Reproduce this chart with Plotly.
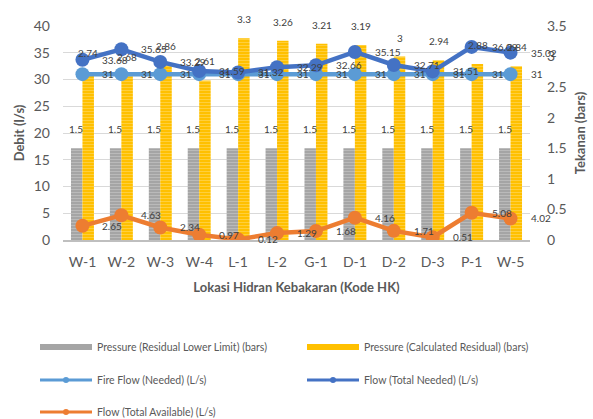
import plotly.graph_objects as go

# ---------------- data ----------------
categories = ['W-1', 'W-2', 'W-3', 'W-4', 'L-1', 'L-2', 'G-1', 'D-1', 'D-2', 'D-3', 'P-1', 'W-5']
pressure_lower_limit = [1.5, 1.5, 1.5, 1.5, 1.5, 1.5, 1.5, 1.5, 1.5, 1.5, 1.5, 1.5]
pressure_calculated = [2.74, 2.68, 2.86, 2.61, 3.3, 3.26, 3.21, 3.19, 3.0, 2.94, 2.88, 2.84]
fire_flow_needed = [31, 31, 31, 31, 31, 31, 31, 31, 31, 31, 31, 31]
flow_total_needed = [33.68, 35.65, 33.29, 31.59, 31.32, 32.29, 32.66, 35.15, 32.71, 31.51, 36.09, 35.02]
flow_total_available = [2.65, 4.63, 2.34, 0.97, 0.12, 1.29, 1.68, 4.16, 1.71, 0.51, 5.08, 4.02]

names = ['Pressure (Residual Lower Limit) (bars)', 'Pressure (Calculated Residual) (bars)',
         'Fire Flow (Needed) (L/s)', 'Flow (Total Needed) (L/s)', 'Flow (Total Available) (L/s)']

GREY = '#A5A5A5'
YELLOW = '#FFC000'
LBLUE = '#5B9BD5'
DBLUE = '#4472C4'
ORANGE = '#ED7D31'
FONT = 'Lato, Liberation Sans, sans-serif'
TXT = '#595959'
LBL = '#404040'

fig = go.Figure()

# bars (pressure, right-hand axis -> 'y')
fig.add_trace(go.Bar(x=categories, y=pressure_lower_limit, name=names[0], yaxis='y',
                     marker=dict(color=GREY, line=dict(width=0),
                                 pattern=dict(shape='-', fgcolor='#D0D0D0', size=3, solidity=0.35,
                                              fillmode='overlay')),
                     showlegend=False))
fig.add_trace(go.Bar(x=categories, y=pressure_calculated, name=names[1], yaxis='y',
                     marker=dict(color=YELLOW, line=dict(width=0),
                                 pattern=dict(shape='-', fgcolor='#FFDD77', size=3, solidity=0.35,
                                              fillmode='overlay')),
                     showlegend=False))

# lines (flow, left-hand axis -> 'y2')
for vals, col in [(fire_flow_needed, LBLUE), (flow_total_needed, DBLUE), (flow_total_available, ORANGE)]:
    fig.add_trace(go.Scatter(x=categories, y=vals, yaxis='y2', mode='lines+markers',
                             line=dict(color=col, width=4.5), marker=dict(color=col, size=14),
                             showlegend=False))

# legend-only entries (no visible data)
leg_specs = [
    (names[0], GREY, 'lines', 6, 'legend'),
    (names[1], YELLOW, 'lines', 6, 'legend2'),
    (names[2], LBLUE, 'lines+markers', 3, 'legend3'),
    (names[3], DBLUE, 'lines+markers', 3, 'legend4'),
    (names[4], ORANGE, 'lines+markers', 3, 'legend5'),
]
for nm, col, mode, w, lg in leg_specs:
    fig.add_trace(go.Scatter(x=[categories[0]], y=[None], name=nm, mode=mode, legend=lg,
                             line=dict(color=col, width=w), marker=dict(color=col, size=6),
                             showlegend=True, xaxis='x', yaxis='y2', hoverinfo='skip'))

# data labels
ann = []
for i, c in enumerate(categories):
    ann.append(dict(x=c, y=pressure_lower_limit[i], yref='y', text=f"{pressure_lower_limit[i]:g}",
                    xshift=-6, yshift=19, showarrow=False, font=dict(size=10, color=LBL, family=FONT)))
    ann.append(dict(x=c, y=pressure_calculated[i], yref='y', text=f"{pressure_calculated[i]:g}",
                    xshift=6, yshift=19, showarrow=False, font=dict(size=10, color=LBL, family=FONT)))
    for vals in (fire_flow_needed, flow_total_needed, flow_total_available):
        ann.append(dict(x=c, y=vals[i], yref='y2', text=f"{vals[i]:g}", xanchor='left',
                        xshift=18, showarrow=False, font=dict(size=10, color=LBL, family=FONT)))

def lg(x, y):
    return dict(x=x, y=y, xanchor='left', yanchor='middle', orientation='h', itemwidth=52,
                font=dict(size=10.5, color=TXT, family=FONT), bgcolor='rgba(0,0,0,0)',
                borderwidth=0, tracegroupgap=0)

PX0, PW, PY0, PH = 63, 467, 240, 214
def px2x(p):
    return (p - PX0) / PW
def py2y(p):
    return (PY0 - p) / PH

fig.update_layout(
    width=593, height=419, autosize=False,
    margin=dict(l=63, r=63, t=26, b=179, autoexpand=False),
    paper_bgcolor='white', plot_bgcolor='white',
    font=dict(family=FONT, color=TXT),
    barmode='group', bargap=0.41, bargroupgap=0,
    xaxis=dict(type='category', categoryorder='array', categoryarray=categories,
               range=[-0.5, len(categories) - 0.5], autorange=False,
               showgrid=False, showline=True, linecolor='#BFBFBF', linewidth=1.5,
               tickfont=dict(size=14, color=TXT), ticks='', ticklabelstandoff=8,
               title=dict(text='<b>Lokasi Hidran Kebakaran (Kode HK)</b>', font=dict(size=13, color=TXT),
                          standoff=14)),
    yaxis=dict(side='right', range=[0, 3.5], dtick=0.5, showgrid=False, zeroline=False,
               tickfont=dict(size=14, color=TXT), ticklabelstandoff=16,
               title=dict(text='<b>Tekanan (bars)</b>', font=dict(size=13, color=TXT), standoff=10)),
    yaxis2=dict(side='left', overlaying='y', range=[0, 40], dtick=5, showgrid=True, gridcolor='#D9D9D9',
                gridwidth=1, zeroline=False, tickfont=dict(size=14, color=TXT), ticklabelstandoff=12,
                title=dict(text='<b>Debit (l/s)</b>', font=dict(size=13, color=TXT), standoff=6)),
    legend=lg(px2x(35), py2y(347)),
    legend2=lg(px2x(302), py2y(347)),
    legend3=lg(px2x(35), py2y(380)),
    legend4=lg(px2x(302), py2y(380)),
    legend5=lg(px2x(35), py2y(412)),
    annotations=ann,
)

fig.write_html('out.html')
